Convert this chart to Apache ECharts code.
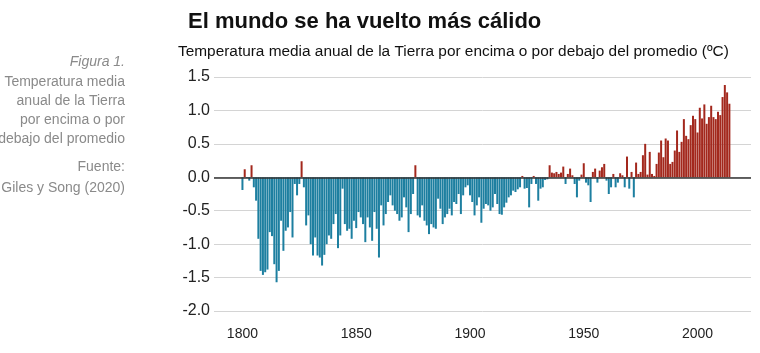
<!DOCTYPE html>
<html>
<head>
<meta charset="utf-8">
<script src="https://cdn.jsdelivr.net/npm/echarts@6/dist/echarts.min.js"></script>
<style>
  html, body { margin: 0; padding: 0; background: #fff; }
  #chart { width: 760px; height: 353px; }
</style>
</head>
<body>
<div id="chart"></div>
<script>
// anomalías anuales (ºC)
const firstYear = 1800;
const anom1800 = [-0.19, 0.12, -0.01, -0.05, 0.18, -0.15, -0.35, -0.92, -1.40, -1.46,
  -1.42, -1.38, -0.82, -0.88, -1.30, -1.57, -1.40, -0.65, -1.10, -0.80,
  -0.75, -0.52, -0.90, -0.10, -0.27, -0.10, 0.24, -0.15, -0.72, -0.57,
  -1.00, -1.17, -0.90, -1.17, -1.20, -1.32, -1.16, -1.00, -0.87, -0.92,
  -0.70, -0.55, -1.06, -0.87, -0.17, -0.70, -0.80, -0.77, -0.92, -0.65];
const anom1850 = [-0.76, -0.52, -0.60, -0.70, -0.97, -0.60, -0.75, -0.95, -0.52, -0.77,
  -1.20, -0.42, -0.72, -0.55, -0.37, -0.27, -0.42, -0.50, -0.55, -0.65,
  -0.60, -0.30, -0.45, -0.82, -0.55, -0.25, 0.18, -0.57, -0.60, -0.42,
  -0.65, -0.72, -0.85, -0.70, -0.75, -0.77, -0.32, -0.47, -0.70, -0.60,
  -0.55, -0.47, -0.57, -0.37, -0.40, -0.25, -0.55, -0.27, -0.15, -0.12];
const anom1900 = [-0.27, -0.37, -0.57, -0.42, -0.30, -0.68, -0.47, -0.40, -0.42, -0.50,
  -0.45, -0.25, -0.40, -0.55, -0.56, -0.45, -0.38, -0.30, -0.27, -0.20,
  -0.22, -0.18, -0.15, 0.02, -0.17, -0.16, -0.45, -0.10, 0.02, -0.10,
  -0.35, -0.17, -0.15, -0.04, -0.03, 0.18, 0.07, 0.06, 0.08, 0.05,
  0.07, 0.16, -0.10, 0.05, 0.13, 0.03, -0.10, -0.30, -0.05, 0.04];
const anom1950 = [0.21, -0.08, -0.12, -0.37, 0.08, 0.13, -0.08, 0.10, 0.15, 0.20,
  -0.05, -0.25, -0.15, 0.05, -0.15, -0.08, 0.06, 0.03, -0.15, 0.31,
  -0.17, 0.08, -0.30, 0.22, 0.05, 0.08, 0.33, 0.50, 0.04, 0.38,
  0.05, 0.02, 0.20, 0.37, 0.55, 0.30, 0.58, 0.55, 0.20, 0.23,
  0.40, 0.70, 0.38, 0.53, 0.87, 0.62, 0.57, 0.78, 0.92, 0.87];
const anom2000 = [0.67, 1.04, 0.88, 1.09, 0.80, 0.90, 1.07, 0.90, 0.87, 0.98,
  0.93, 1.20, 1.38, 1.27, 1.10];

const tickYears = [1800, 1850, 1900, 1950, 2000];

// eje con margen a ambos lados, como en el original
const axisFrom = 1788;
const axisTo = 2023;

const anomalies = [].concat(anom1800, anom1850, anom1900, anom1950, anom2000);
const years = [];
const values = [];
for (let y = axisFrom; y <= axisTo; y++) {
  years.push(String(y));
  const i = y - firstYear;
  values.push(i >= 0 && i < anomalies.length ? anomalies[i] : '-');
}

const BLUE = '#1d7fa0';
const RED = '#a3281d';
const sans = "'Liberation Sans', Arial, sans-serif";

const chart = echarts.init(document.getElementById('chart'), null, { renderer: 'canvas' });

const sideLines = [
  { text: 'Figura 1.', y: 62, italic: true },
  { text: 'Temperatura media', y: 82 },
  { text: 'anual de la Tierra', y: 101 },
  { text: 'por encima o por', y: 120 },
  { text: 'debajo del promedio', y: 139 },
  { text: 'Fuente:', y: 167 },
  { text: 'Giles y Song (2020)', y: 188 }
];

chart.setOption({
  animation: false,
  backgroundColor: '#fff',
  graphic: [
    {
      type: 'text', left: 188, top: 11,
      style: { text: 'El mundo se ha vuelto más cálido', fill: '#111',
        font: 'bold 22px ' + sans }
    },
    {
      type: 'text', left: 178, top: 44,
      style: { text: 'Temperatura media anual de la Tierra por encima o por debajo del promedio (ºC)',
        fill: '#111', font: '15.4px ' + sans }
    }
  ].concat(sideLines.map(l => ({
    type: 'text', x: 125, y: l.y,
    style: { text: l.text, fill: '#8a8a8a', align: 'right', verticalAlign: 'middle',
      font: (l.italic ? 'italic ' : '') + '14px ' + sans }
  }))),
  grid: { left: 214, right: 9, top: 77, bottom: 42 },
  xAxis: {
    type: 'category',
    data: years,
    axisLine: { show: false },
    axisTick: { show: false },
    splitLine: { show: false },
    axisLabel: {
      interval: (idx, val) => tickYears.indexOf(Number(val)) >= 0,
      color: '#222', fontSize: 14, margin: 16, fontFamily: sans
    }
  },
  yAxis: {
    type: 'value',
    min: -2, max: 1.5, interval: 0.5,
    axisLine: { show: false },
    axisTick: { show: false },
    splitLine: { lineStyle: { color: '#d4d4d4', width: 1 } },
    axisLabel: {
      color: '#222', fontSize: 16, margin: 4, fontFamily: sans,
      formatter: v => v.toFixed(1)
    }
  },
  series: [{
    type: 'bar',
    data: values,
    barCategoryGap: '12%',
    itemStyle: {
      color: p => (p.value >= 0 ? RED : BLUE)
    },
    markLine: {
      silent: true,
      symbol: 'none',
      label: { show: false },
      lineStyle: { color: '#333', width: 1.5, type: 'solid' },
      data: [{ yAxis: 0 }]
    }
  }]
});
</script>
</body>
</html>
